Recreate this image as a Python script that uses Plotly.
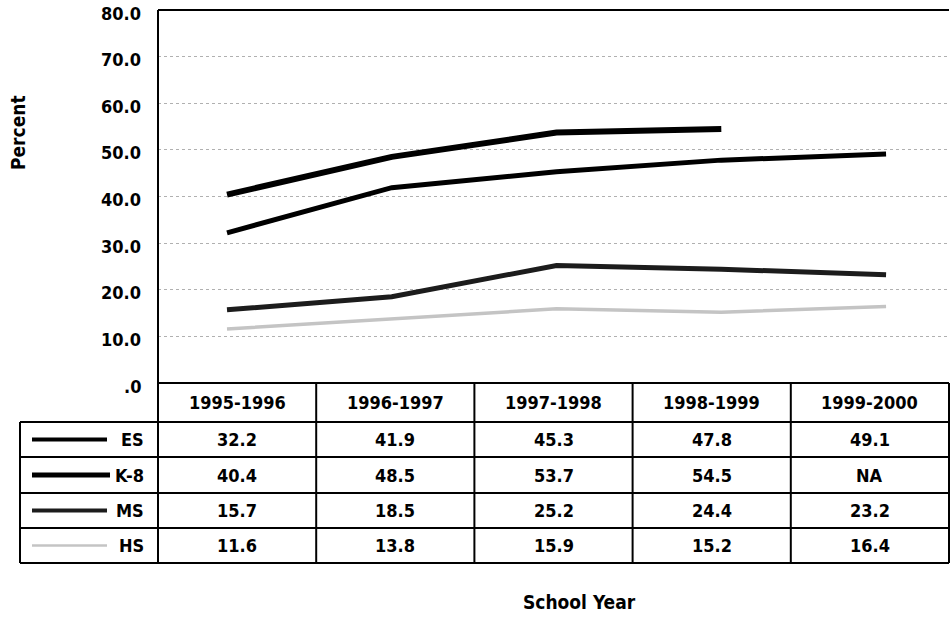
import plotly.graph_objects as go

# ---------------- data ----------------
years = ["1995-1996", "1996-1997", "1997-1998", "1998-1999", "1999-2000"]
series_names = ["ES", "K-8", "MS", "HS"]
es_values = [32.2, 41.9, 45.3, 47.8, 49.1]
k8_values = [40.4, 48.5, 53.7, 54.5, None]
ms_values = [15.7, 18.5, 25.2, 24.4, 23.2]
hs_values = [11.6, 13.8, 15.9, 15.2, 16.4]
y_tick_values = [0, 10, 20, 30, 40, 50, 60, 70, 80]
y_tick_labels = [".0", "10.0", "20.0", "30.0", "40.0", "50.0", "60.0", "70.0", "80.0"]

all_values = [es_values, k8_values, ms_values, hs_values]

# ---------------- styles ----------------
line_colors = ["#000000", "#000000", "#1c1c1c", "#c4c4c4"]
line_widths = [5, 6, 5, 3.5]
line_dashes = ["solid", "solid", "solid", "solid"]

FONT = "DejaVu Sans Condensed, DejaVu Sans, Verdana, sans-serif"
W, H = 950, 618
L, R, T, B = 158, 949, 10, 383  # plot area pixel box


def px(x):
    return (x - L) / (R - L)


def py(y):
    return (B - y) / (B - T)


fig = go.Figure()
xs = list(range(len(years)))
for name, vals, c, w, d in zip(series_names, all_values, line_colors, line_widths, line_dashes):
    fig.add_trace(go.Scatter(
        x=xs, y=vals, mode="lines", name=name,
        line=dict(color=c, width=w, dash=d),
        connectgaps=False, showlegend=False, hoverinfo="skip",
    ))

shapes = []
blk = dict(color="black", width=2)
# plot frame: top and left
shapes.append(dict(type="line", xref="paper", yref="paper", x0=px(L), x1=px(R), y0=py(T), y1=py(T), line=blk))
shapes.append(dict(type="line", xref="paper", yref="paper", x0=px(L), x1=px(L), y0=py(T), y1=py(563), line=blk))

# table geometry
col_edges = [L + i * (R - L) / len(years) for i in range(len(years) + 1)]
row_edges = [383, 422, 457, 493, 528, 563]
label_left = 20

for i, yy in enumerate(row_edges):
    x0 = L if i == 0 else label_left
    shapes.append(dict(type="line", xref="paper", yref="paper", x0=px(x0), x1=px(R), y0=py(yy), y1=py(yy), line=blk))
for xx in col_edges[1:]:
    shapes.append(dict(type="line", xref="paper", yref="paper", x0=px(xx), x1=px(xx), y0=py(383), y1=py(563), line=blk))
shapes.append(dict(type="line", xref="paper", yref="paper", x0=px(label_left), x1=px(label_left), y0=py(422), y1=py(563), line=blk))

annotations = []
tfont = dict(family=FONT, size=18, color="black", weight="bold")

# y tick labels (sit slightly below their gridlines, as in the reference)
for v, lab in zip(y_tick_values, y_tick_labels):
    annotations.append(dict(xref="paper", yref="y", x=px(143), y=v, yshift=-3, text=lab,
                            showarrow=False, font=tfont, xanchor="right", yanchor="middle"))

# header row
for i, yr in enumerate(years):
    cx = (col_edges[i] + col_edges[i + 1]) / 2
    annotations.append(dict(xref="paper", yref="paper", x=px(cx), y=py((row_edges[0] + row_edges[1]) / 2),
                            text=yr, showarrow=False, font=tfont, xanchor="center", yanchor="middle"))
# body rows
for r, (name, vals) in enumerate(zip(series_names, all_values)):
    cy = (row_edges[r + 1] + row_edges[r + 2]) / 2
    for i, v in enumerate(vals):
        cx = (col_edges[i] + col_edges[i + 1]) / 2
        txt = "NA" if v is None else f"{v:.1f}"
        annotations.append(dict(xref="paper", yref="paper", x=px(cx), y=py(cy), text=txt,
                                showarrow=False, font=tfont, xanchor="center", yanchor="middle"))
    annotations.append(dict(xref="paper", yref="paper", x=px(146), y=py(cy), text=name,
                            showarrow=False, font=tfont, xanchor="right", yanchor="middle"))
    # legend sample line
    x_end = 110 if name == "K-8" else 107
    shapes.append(dict(type="line", xref="paper", yref="paper", x0=px(32), x1=px(x_end), y0=py(cy), y1=py(cy),
                       line=dict(color=line_colors[r], width=line_widths[r] - 1, dash=line_dashes[r])))

# axis titles
annotations.append(dict(xref="paper", yref="paper", x=px(18), y=py(133), text="Percent", textangle=-90,
                        showarrow=False, font=dict(family=FONT, size=19, color="black", weight="bold"),
                        xanchor="center", yanchor="middle"))
annotations.append(dict(xref="paper", yref="paper", x=px(579), y=py(602), text="School Year",
                        showarrow=False, font=dict(family=FONT, size=19, color="black", weight="bold"),
                        xanchor="center", yanchor="middle"))

# x range chosen so that category points sit where the reference draws them
x_lo, x_hi = -0.4188, 4.382

fig.update_layout(
    width=W, height=H,
    margin=dict(l=L, r=W - R, t=T, b=H - B, pad=0),
    paper_bgcolor="white", plot_bgcolor="white",
    xaxis=dict(range=[x_lo, x_hi], showgrid=False, zeroline=False, showticklabels=False,
               showline=False, fixedrange=True),
    yaxis=dict(range=[0, 80], tickvals=y_tick_values,
               showgrid=True, gridcolor="#b0b0b0", gridwidth=1, griddash="dot",
               zeroline=False, showline=False, ticks="", showticklabels=False, fixedrange=True),
    shapes=shapes, annotations=annotations, showlegend=False,
)

fig.write_html("out.html", config={"displayModeBar": False},
               post_script="document.body.style.margin='0';")
